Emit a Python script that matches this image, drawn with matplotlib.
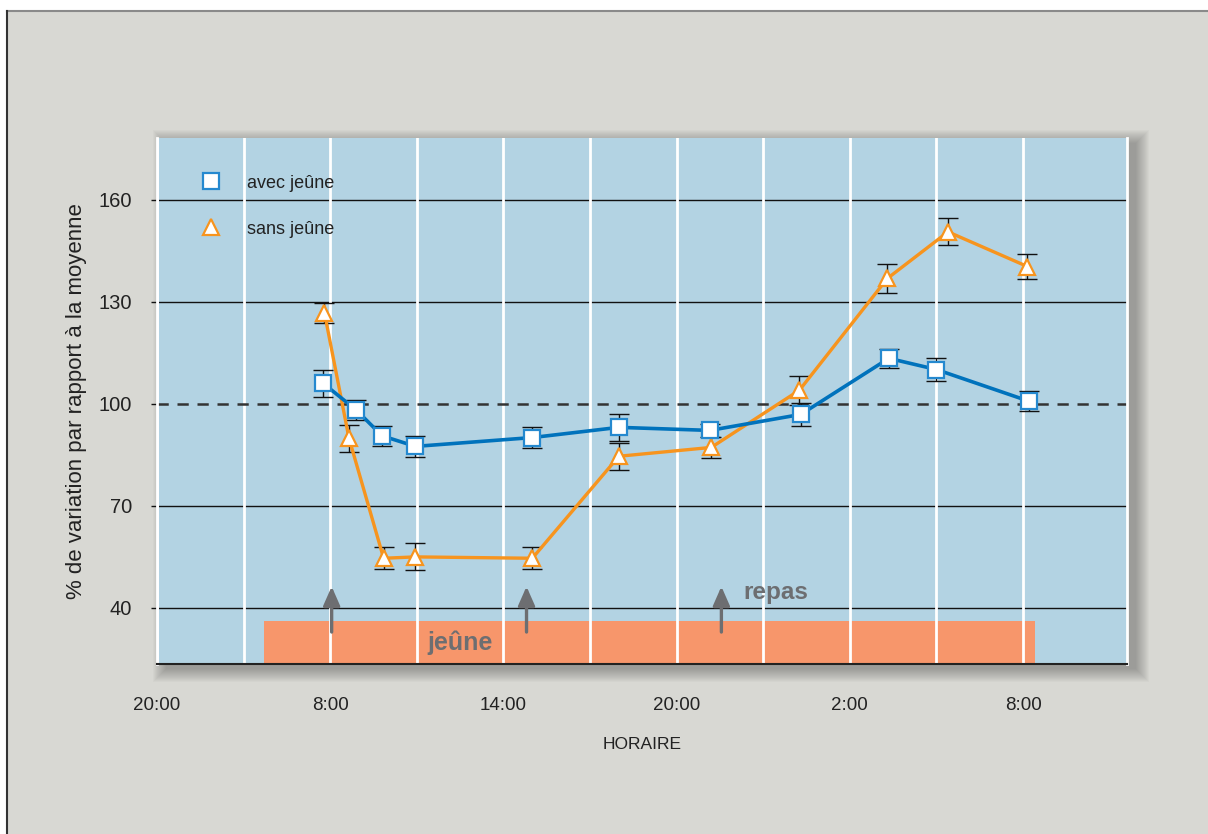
import matplotlib
matplotlib.use('Agg')
import matplotlib.pyplot as plt
from matplotlib.patches import Rectangle
from matplotlib.lines import Line2D

plt.rcParams['font.family'] = ['Liberation Sans Narrow', 'Liberation Sans', 'DejaVu Sans']

# heures comptées depuis 8:00 du premier jour
heures_avec = [-0.25, 0.9, 1.8, 2.95, 7.0, 10.0, 13.15, 16.3, 19.35, 21.0, 24.2]
avec_jeune = [106.1, 98.2, 90.6, 87.5, 90.1, 93.1, 92.2, 96.9, 113.4, 110.1, 100.8]
avec_err = [4.0, 3.0, 3.0, 3.0, 3.0, 4.0, 2.0, 3.3, 2.8, 3.4, 2.9]

heures_sans = [-0.2, 0.65, 1.85, 2.95, 7.0, 10.0, 13.2, 16.25, 19.3, 21.4, 24.15]
sans_jeune = [126.8, 89.9, 54.6, 55.0, 54.6, 84.6, 87.2, 104.0, 136.9, 150.6, 140.4]
sans_err = [3.0, 4.0, 3.3, 4.0, 3.2, 4.0, 3.0, 4.3, 4.2, 4.0, 3.6]

xticks = [-6, 0, 6, 12, 18, 24]
xtick_labels = ['20:00', '8:00', '14:00', '20:00', '2:00', '8:00']
yticks = [40, 70, 100, 130, 160]

periode_jeune = (-2.3, 24.4)
repas = [0.05, 6.8, 13.55]

BLEU = '#0072bc'
BLEU_BORD = '#2589cf'
ORANGE = '#f7941e'
GRIS = '#6d6e71'
FOND = '#d8d8d3'

fig = plt.figure(figsize=(12.08, 8.34), dpi=100)
fig.patch.set_facecolor('white')
W, H = 1208.0, 834.0

# cadre gris de la figure
fig.patches.append(Rectangle((7 / W, 0), 1, 1 - 11 / H, transform=fig.transFigure,
                             facecolor=FOND, edgecolor='none', zorder=-10))
fig.add_artist(Line2D([7 / W, 1], [1 - 11 / H] * 2, transform=fig.transFigure, color='#8a8a8a', lw=1.5))
fig.add_artist(Line2D([7 / W] * 2, [0, 1 - 11 / H], transform=fig.transFigure, color='#333333', lw=1.5))

ax_l, ax_b, ax_r, ax_t = 157, 664, 1127, 138
# ombre portée du graphique (à droite et en bas)
for d in range(14):
    fig.patches.append(Rectangle(((ax_l - d + 9) / W, (H - ax_b - d - 5) / H),
                                 (ax_r - ax_l + 2 * d) / W, (ax_b - ax_t + 2 * d) / H,
                                 transform=fig.transFigure, facecolor='#404040',
                                 edgecolor='none', alpha=0.03, zorder=-9))

ax = fig.add_axes([ax_l / W, (H - ax_b) / H, (ax_r - ax_l) / W, (ax_b - ax_t) / H])
ax.set_facecolor('#b3d3e3')
ax.set_xlim(-6, 27.6)
ax.set_ylim(23.5, 178.2)

ax.set_xticks(xticks)
ax.set_xticklabels(xtick_labels, fontsize=13.5, color='#222222')
ax.set_xticks(range(-6, 27, 3), minor=True)
ax.set_yticks(yticks)
ax.set_yticklabels([str(v) for v in yticks], fontsize=14.5, color='#222222')
ax.tick_params(axis='x', which='both', length=0, pad=24)
ax.tick_params(axis='y', length=4, width=1, color='#111111', pad=14)
ax.grid(axis='x', which='both', color='white', lw=2)
# lignes horizontales, sauf 100 qui est en pointillé
for v in yticks:
    if v != 100:
        ax.axhline(v, color='#111111', lw=1, zorder=1.5)

for s in ['left', 'right']:
    ax.spines[s].set_color('white')
    ax.spines[s].set_linewidth(2)
ax.spines['top'].set_visible(False)
ax.spines['bottom'].set_color('#222222')
ax.spines['bottom'].set_linewidth(1.5)

ax.set_xlabel('HORAIRE', fontsize=12.5, color='#222222', labelpad=16)
ax.set_ylabel('% de variation par rapport à la moyenne', fontsize=16, color='#222222', labelpad=8)

# période de jeûne
ax.add_patch(Rectangle((periode_jeune[0], 23.5), periode_jeune[1] - periode_jeune[0], 36 - 23.5,
                       facecolor='#f7966b', edgecolor='none', zorder=1))
ax.text(4.5, 29.8, 'jeûne', family=['Liberation Sans', 'DejaVu Sans'], fontweight='bold',
        fontsize=18, color=GRIS, ha='center', va='center', zorder=6)
ax.text(14.3, 44.6, 'repas', family=['Liberation Sans', 'DejaVu Sans'], fontweight='bold',
        fontsize=17.5, color=GRIS, ha='left', va='center', zorder=6)
for x in repas:
    ax.annotate('', xy=(x, 46.3), xytext=(x, 32.9),
                arrowprops=dict(arrowstyle='-|>,head_length=0.5,head_width=0.22',
                                mutation_scale=23, lw=2.4, color=GRIS,
                                shrinkA=0, shrinkB=0), zorder=6)

ax.axhline(100, color='#333333', lw=1.8, ls=(0, (4.5, 3.5)), zorder=2)

# séries avec barres d'erreur
ax.errorbar(heures_avec, avec_jeune, yerr=avec_err, fmt='none', ecolor='#111111',
            elinewidth=1, capsize=7, capthick=1, zorder=3)
ax.errorbar(heures_sans, sans_jeune, yerr=sans_err, fmt='none', ecolor='#111111',
            elinewidth=1, capsize=7, capthick=1, zorder=3)
ax.plot(heures_sans, sans_jeune, color=ORANGE, lw=2.4, zorder=4)
ax.plot(heures_avec, avec_jeune, color=BLEU, lw=2.6, zorder=4)
ax.plot(heures_sans, sans_jeune, ls='none', marker='^', ms=12, mfc='white', mec=ORANGE,
        mew=1.6, zorder=5)
ax.plot(heures_avec, avec_jeune, ls='none', marker='s', ms=11, mfc='white', mec=BLEU_BORD,
        mew=1.6, zorder=5)

h_avec = Line2D([], [], ls='none', marker='s', ms=11, mfc='white', mec=BLEU_BORD, mew=1.6)
h_sans = Line2D([], [], ls='none', marker='^', ms=12, mfc='white', mec=ORANGE, mew=1.6)
leg = ax.legend([h_avec, h_sans], ['avec jeûne', 'sans jeûne'], loc='upper left',
                bbox_to_anchor=(0.028, 0.961), frameon=False, fontsize=13,
                handlelength=1.2, handletextpad=1.4, labelspacing=1.6)
for t in leg.get_texts():
    t.set_color('#222222')

fig.savefig('out.png', dpi=100, facecolor=fig.get_facecolor())
